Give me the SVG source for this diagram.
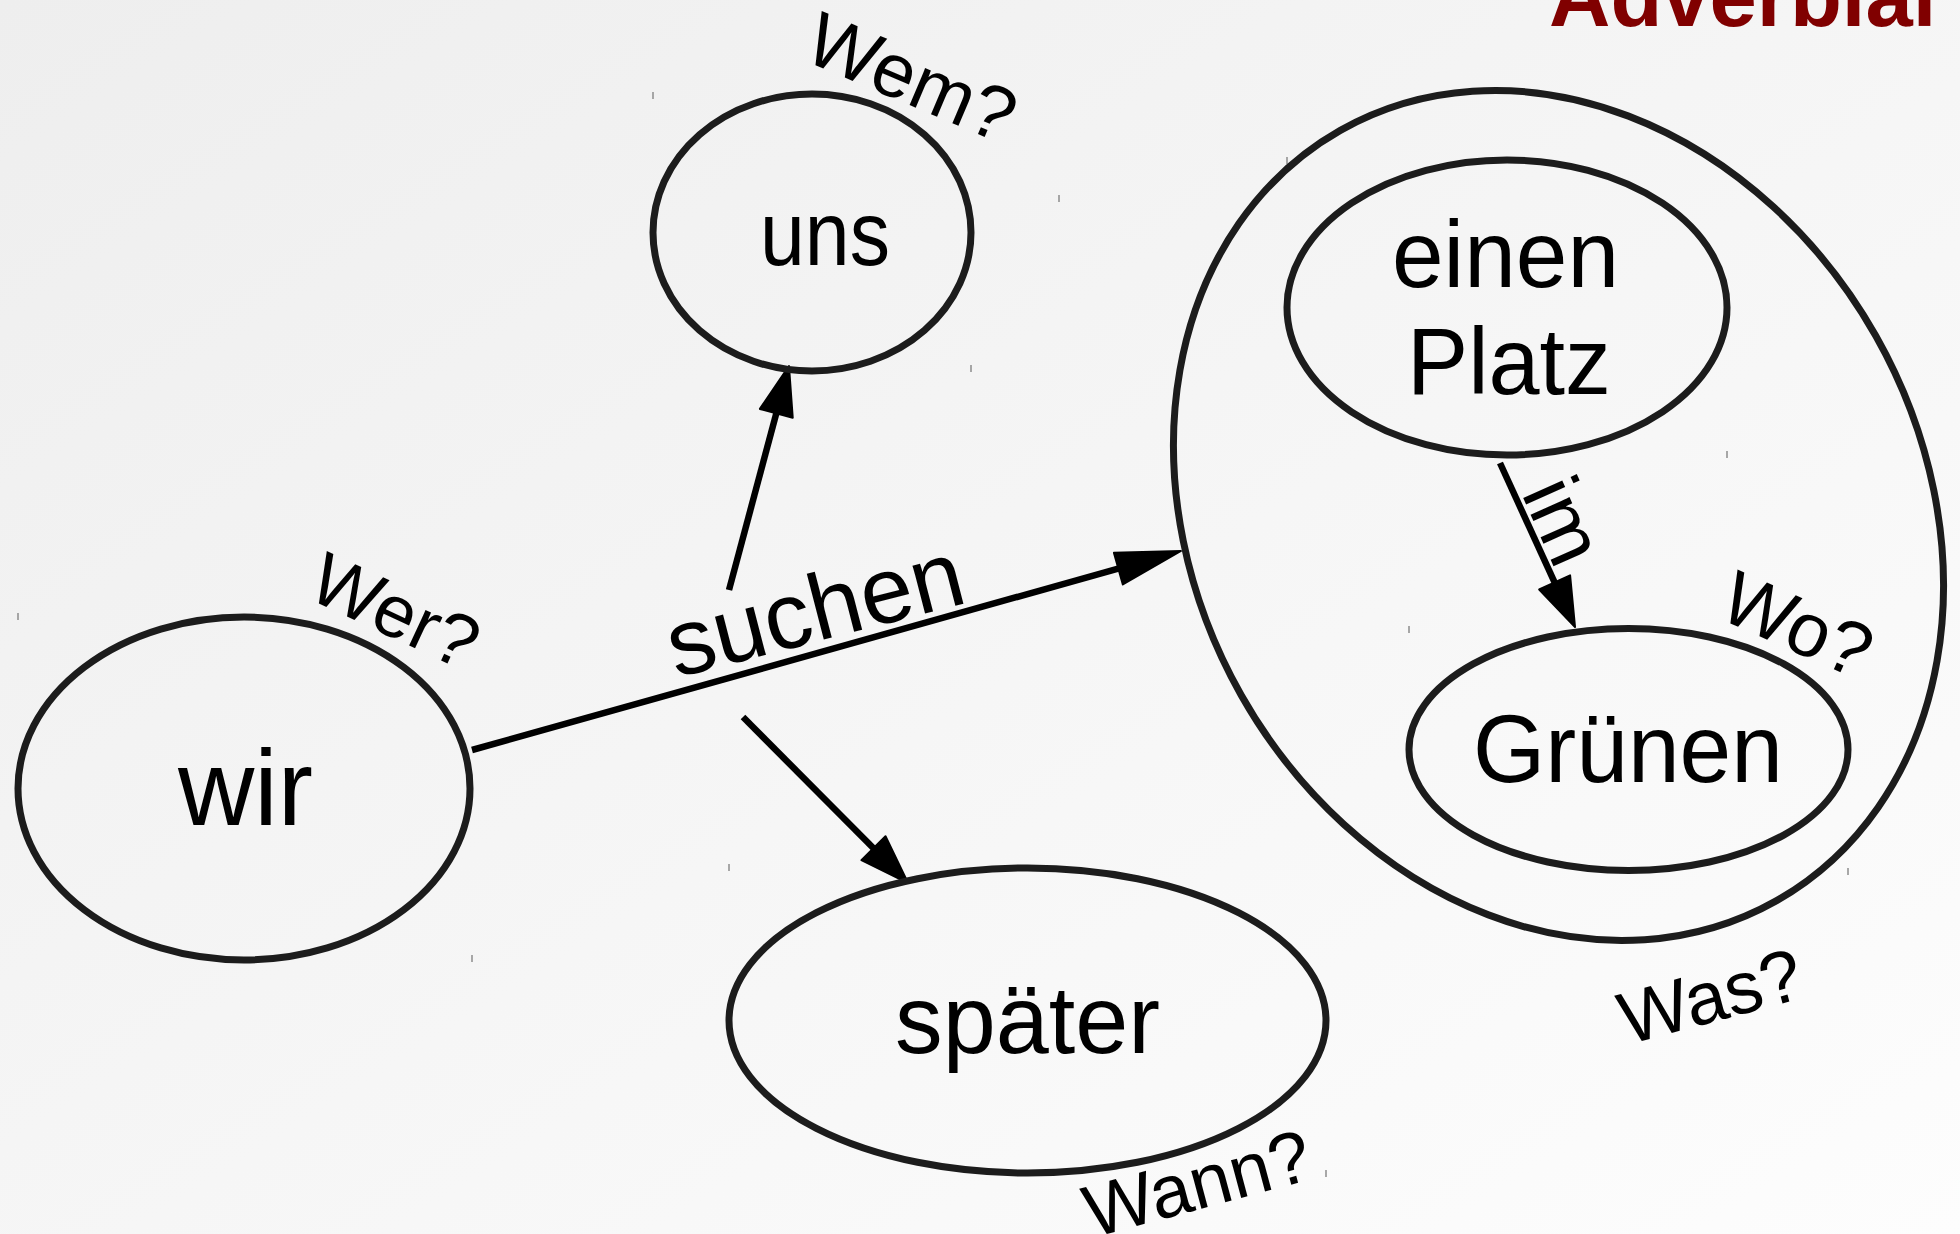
<svg xmlns="http://www.w3.org/2000/svg" width="1960" height="1234" viewBox="0 0 1960 1234">
  <defs>
    <linearGradient id="bg" x1="0" y1="0" x2="1" y2="1">
      <stop offset="0" stop-color="#eeeeee"/>
      <stop offset="0.6" stop-color="#f7f7f7"/>
      <stop offset="1" stop-color="#fdfdfd"/>
    </linearGradient>
    <marker id="ah" markerUnits="userSpaceOnUse" markerWidth="52" markerHeight="36" viewBox="0 0 52 36" refX="30" refY="17" orient="auto" overflow="visible">
      <path d="M1,0 L50,17 L1,34 Z" fill="#000" stroke="#000" stroke-width="2" stroke-linejoin="round"/>
    </marker>
    <marker id="ahL" markerUnits="userSpaceOnUse" markerWidth="68" markerHeight="36" viewBox="0 0 68 36" refX="46" refY="17" orient="auto" overflow="visible">
      <path d="M1,0.5 L66,17 L1,33.5 Z" fill="#000" stroke="#000" stroke-width="2" stroke-linejoin="round"/>
    </marker>
    <style>
      .node { fill: none; stroke: #1c1c1c; stroke-width: 7; }
      .edge { fill: none; stroke: #000; stroke-width: 6.5; }
      .t { font-family: "Liberation Sans", Arial, Helvetica, sans-serif; fill: #000; }
      .q { font-family: "Liberation Sans", Arial, Helvetica, sans-serif; fill: #000; font-size: 74px; }
      .tick { stroke: #8c8c8c; stroke-width: 1.5; }
    </style>
  </defs>

  <rect x="0" y="0" width="1960" height="1234" fill="url(#bg)"/>

  <text class="t" x="1549" y="26" font-size="85" font-weight="bold" style="fill:#800000">Adverbial</text>

  <g id="ticks">
    <line class="tick" x1="653" y1="92" x2="653" y2="99"/>
    <line class="tick" x1="971" y1="365" x2="971" y2="372"/>
    <line class="tick" x1="18" y1="613" x2="18" y2="620"/>
    <line class="tick" x1="472" y1="955" x2="472" y2="962"/>
    <line class="tick" x1="729" y1="864" x2="729" y2="871"/>
    <line class="tick" x1="1326" y1="1170" x2="1326" y2="1177"/>
    <line class="tick" x1="1409" y1="626" x2="1409" y2="633"/>
    <line class="tick" x1="1848" y1="868" x2="1848" y2="875"/>
    <line class="tick" x1="1287" y1="157" x2="1287" y2="164"/>
    <line class="tick" x1="1727" y1="451" x2="1727" y2="458"/>
    <line class="tick" x1="1059" y1="195" x2="1059" y2="202"/>
  </g>

  <g id="connectors">
    <path id="e-suchen" class="edge" d="M472,750 L1161.7,556.4" marker-end="url(#ahL)"/>
    <path id="e-uns" class="edge" d="M729,590 L783.8,385.3" marker-end="url(#ah)"/>
    <path id="e-spaeter" class="edge" d="M743,717 L893.9,868.8" marker-end="url(#ah)"/>
    <path id="e-im" class="edge" d="M1500,463 L1566.7,608.8" marker-end="url(#ah)"/>
    <text class="t" font-size="94" transform="translate(676,678) rotate(-14.5)">suchen</text>
    <text class="t" font-size="81" transform="translate(1521,493) rotate(66)">im</text>
  </g>

  <g id="node-wir">
    <ellipse class="node" cx="244" cy="788.5" rx="226" ry="171.5"/>
    <text class="t" x="178" y="825" font-size="108" textLength="135" lengthAdjust="spacingAndGlyphs">wir</text>
    <text class="q" transform="translate(305,597) rotate(25)">Wer?</text>
  </g>

  <g id="node-uns">
    <ellipse class="node" cx="812" cy="232.5" rx="159" ry="138.5"/>
    <text class="t" x="760" y="265" font-size="90" textLength="130" lengthAdjust="spacingAndGlyphs">uns</text>
    <text class="q" transform="translate(801,59) rotate(23)" style="font-size:76px">Wem?</text>
  </g>

  <g id="node-spaeter">
    <ellipse class="node" cx="1027.5" cy="1020.5" rx="298.5" ry="152.5"/>
    <text class="t" x="895" y="1053" font-size="96" textLength="265" lengthAdjust="spacingAndGlyphs">später</text>
    <text class="q" transform="translate(1092,1238) rotate(-15)">Wann?</text>
  </g>

  <g id="node-was">
    <ellipse class="node" cx="1558.5" cy="515.5" rx="442.6" ry="364.6" transform="rotate(60.47 1558.5 515.5)"/>
    <text class="q" transform="translate(1627,1045) rotate(-15)">Was?</text>
  </g>

  <g id="node-platz">
    <ellipse class="node" cx="1507" cy="307.5" rx="220" ry="147.5"/>
    <text class="t" x="1392" y="287" font-size="95" textLength="227" lengthAdjust="spacingAndGlyphs">einen</text>
    <text class="t" x="1407" y="394" font-size="95" textLength="204" lengthAdjust="spacingAndGlyphs">Platz</text>
  </g>

  <g id="node-gruenen">
    <ellipse class="node" cx="1628.5" cy="749.5" rx="219.5" ry="121"/>
    <text class="t" x="1473" y="782" font-size="97" textLength="310" lengthAdjust="spacingAndGlyphs">Grünen</text>
    <text class="q" transform="translate(1716,617) rotate(24)" style="font-size:76px">Wo?</text>
  </g>
</svg>
